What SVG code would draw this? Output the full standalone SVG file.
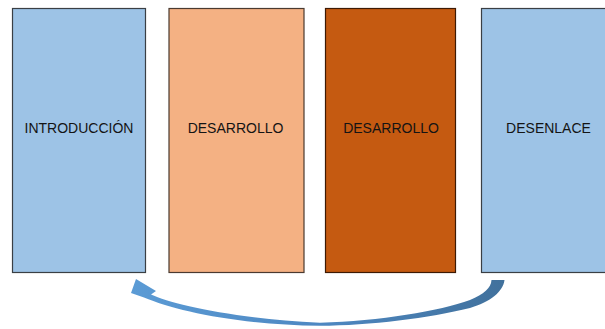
<svg xmlns="http://www.w3.org/2000/svg" width="605" height="329" viewBox="0 0 605 329">
  <defs>
    <style>
      .box { stroke-width: 1.2; }
      .blue { fill: #9DC3E6; stroke: #3a3f44; }
      .peach { fill: #F4B183; stroke: #4a3a30; }
      .rust { fill: #C55A11; stroke: #3d1a04; }
      .lbl { font-family: "Liberation Sans", Arial, sans-serif; font-size: 14px; fill: #141414; text-anchor: middle; }
    </style>
    <linearGradient id="arrowGrad" x1="0" y1="0" x2="1" y2="0">
      <stop offset="0" stop-color="#5B9BD5"/>
      <stop offset="0.5" stop-color="#4E88C2"/>
      <stop offset="1" stop-color="#41719C"/>
    </linearGradient>
  </defs>
  <rect width="605" height="329" fill="#ffffff"/>
  <g id="introduccion">
    <rect class="box blue" x="12.5" y="8.5" width="133" height="264"/>
    <text class="lbl" x="79" y="133">INTRODUCCIÓN</text>
  </g>
  <g id="desarrollo1">
    <rect class="box peach" x="169" y="8.5" width="135" height="264"/>
    <text class="lbl" x="235.5" y="133">DESARROLLO</text>
  </g>
  <g id="desarrollo2">
    <rect class="box rust" x="325.5" y="8.5" width="130" height="264"/>
    <text class="lbl" x="391" y="133">DESARROLLO</text>
  </g>
  <g id="desenlace">
    <rect class="box blue" x="481.5" y="8.5" width="140" height="264"/>
    <text class="lbl" x="548.5" y="133">DESENLACE</text>
  </g>
  <g id="connectors">
    <path fill="url(#arrowGrad)" d="M136,279 L156,291 L151,294.5 C172,304 232,318.5 320,322.8 C380,321 440,311 470,300 C484,294 491,288 491.5,280 L504.5,280 C503,292 490,302 470,308 C430,318 370,325.5 320,325.8 C240,325 176,311 144,297.5 L131,293 Z"/>
  </g>
</svg>
